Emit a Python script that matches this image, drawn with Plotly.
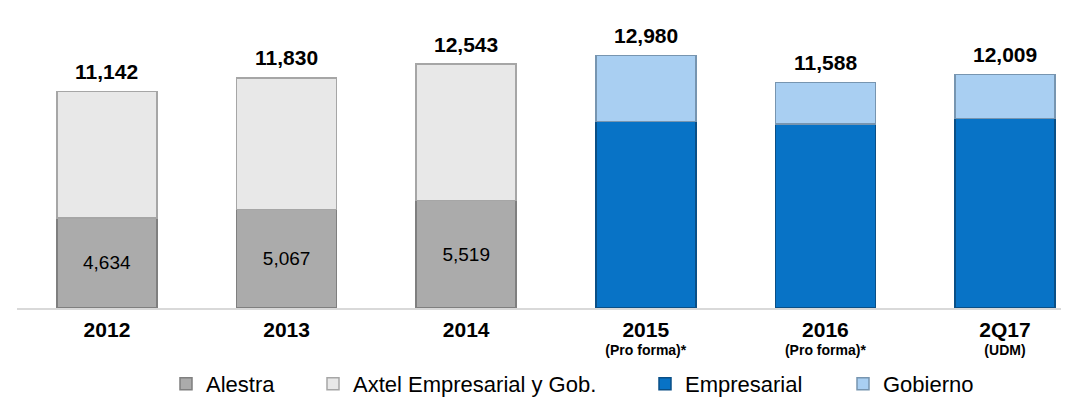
import plotly.graph_objects as go

categories = ["2012", "2013", "2014", "2015", "2016", "2Q17"]
subtitles = ["", "", "", "(Pro forma)*", "(Pro forma)*", "(UDM)"]
alestra = [4634, 5067, 5519, None, None, None]
axtel = [6508, 6763, 7024, None, None, None]
empresarial = [None, None, None, 9600, 9460, 9750]
gobierno = [None, None, None, 3380, 2128, 2259]
totals = [11142, 11830, 12543, 12980, 11588, 12009]

FONT = "Arial, Liberation Sans, sans-serif"
xs = list(range(len(categories)))
bw = 0.557

fig = go.Figure()
fig.add_trace(go.Bar(
    name="Alestra", x=xs, y=alestra, width=bw, legendwidth=102,
    marker=dict(color="#ababab", line=dict(color="#7f7f7f", width=1.5)),
    text=[f"{v:,}" if v else "" for v in alestra],
    textposition="inside", insidetextanchor="middle", textangle=0,
    textfont=dict(family=FONT, size=19, color="#000000"),
    hoverinfo="skip"))
fig.add_trace(go.Bar(
    name="Axtel Empresarial y Gob.", x=xs, y=axtel, width=bw, legendwidth=287,
    marker=dict(color="#e8e8e8", line=dict(color="#a6a6a6", width=1.5)),
    hoverinfo="skip"))
fig.add_trace(go.Bar(
    name="Empresarial", x=xs, y=empresarial, width=bw, legendwidth=153,
    marker=dict(color="#0873c6", line=dict(color="#0a4f86", width=1.5)),
    hoverinfo="skip"))
fig.add_trace(go.Bar(
    name="Gobierno", x=xs, y=gobierno, width=bw, legendwidth=110,
    marker=dict(color="#a9cff2", line=dict(color="#7795b0", width=1.5)),
    hoverinfo="skip"))

for i, t in enumerate(totals):
    fig.add_annotation(x=xs[i], y=t, text=f"<b>{t:,}</b>", showarrow=False,
                       yanchor="middle", yshift=20,
                       font=dict(family=FONT, size=21, color="#000000"))

ticktext = []
for c, s in zip(categories, subtitles):
    lbl = f"<span style='font-size:21px'><b>{c}</b></span>"
    if s:
        lbl += f"<br><span style='font-size:14px'><b>{s}</b></span>"
    ticktext.append(lbl)

px_per_cat = 179.6
plot_w = 1060
fig.update_layout(
    width=1069, height=402,
    margin=dict(l=9, r=0, t=10, b=102),
    barmode="stack",
    plot_bgcolor="white", paper_bgcolor="white",
    font=dict(family=FONT, color="#000000"),
    xaxis=dict(
        range=[-0.501, -0.501 + plot_w / px_per_cat],
        tickmode="array", tickvals=xs, ticktext=ticktext,
        tickfont=dict(family=FONT, size=14, color="#000000"),
        ticklabelstandoff=10,
        showline=True, linecolor="#d9d9d9", linewidth=2,
        showgrid=False, zeroline=False, ticks=""),
    yaxis=dict(range=[0, 290 / 0.01945], visible=False, showgrid=False),
    legend=dict(orientation="h", x=(158 - 9) / 1060, xanchor="left",
                y=(300 - 397) / 290, yanchor="bottom",
                font=dict(family=FONT, size=22, color="#000000"),
                itemwidth=30, traceorder="normal", bgcolor="rgba(0,0,0,0)"),
    showlegend=True,
)

fig.write_html("out.html")
